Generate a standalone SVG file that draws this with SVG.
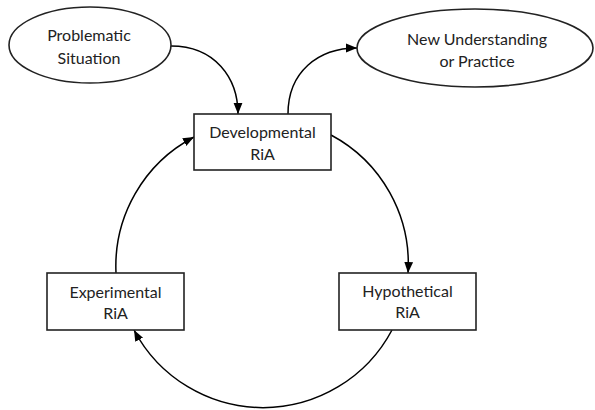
<svg xmlns="http://www.w3.org/2000/svg" width="595" height="410" viewBox="0 0 595 410">
<style>
.node{fill:#fff;stroke:#222;stroke-width:1.6}
.lbl{font-family:Lato,"Open Sans","Liberation Sans",sans-serif;font-size:16px;fill:#222;text-anchor:middle}
.con{fill:none;stroke:#000;stroke-width:1.5;marker-end:url(#arr)}
</style>
<defs>
<marker id="arr" viewBox="0 0 10 10" refX="10" refY="5" markerWidth="11" markerHeight="11" markerUnits="userSpaceOnUse" orient="auto">
<path d="M0,1 L10,5 L0,9 Z" fill="#000"/>
</marker>
</defs>
<rect width="595" height="410" fill="#fff"/>
<g id="connectors">
<path class="con" d="M171,46 C215,46 238,78 238,114"/>
<path class="con" d="M288,114 C288,72 318,48 357,48"/>
<path class="con" d="M331,135 A146,146 0 0 1 408,273"/>
<path class="con" d="M392,330 A146,146 0 0 1 134,330"/>
<path class="con" d="M116,273 A146,146 0 0 1 194,137"/>
</g>
<g id="problematic">
<ellipse class="node" cx="90" cy="45" rx="81" ry="38"/>
<text class="lbl" x="89" y="41">Problematic</text>
<text class="lbl" x="89" y="64">Situation</text>
</g>
<g id="new-understanding">
<ellipse class="node" cx="475" cy="48" rx="118" ry="39"/>
<text class="lbl" x="477" y="45">New Understanding</text>
<text class="lbl" x="477" y="67">or Practice</text>
</g>
<g id="developmental">
<rect class="node" x="194" y="114" width="137" height="56"/>
<text class="lbl" x="262.5" y="138">Developmental</text>
<text class="lbl" x="262.5" y="160">RiA</text>
</g>
<g id="experimental">
<rect class="node" x="47" y="273" width="137" height="57"/>
<text class="lbl" x="115.5" y="298">Experimental</text>
<text class="lbl" x="115.5" y="319">RiA</text>
</g>
<g id="hypothetical">
<rect class="node" x="339" y="273" width="137" height="57"/>
<text class="lbl" x="407.5" y="297">Hypothetical</text>
<text class="lbl" x="407.5" y="318">RiA</text>
</g>
</svg>
